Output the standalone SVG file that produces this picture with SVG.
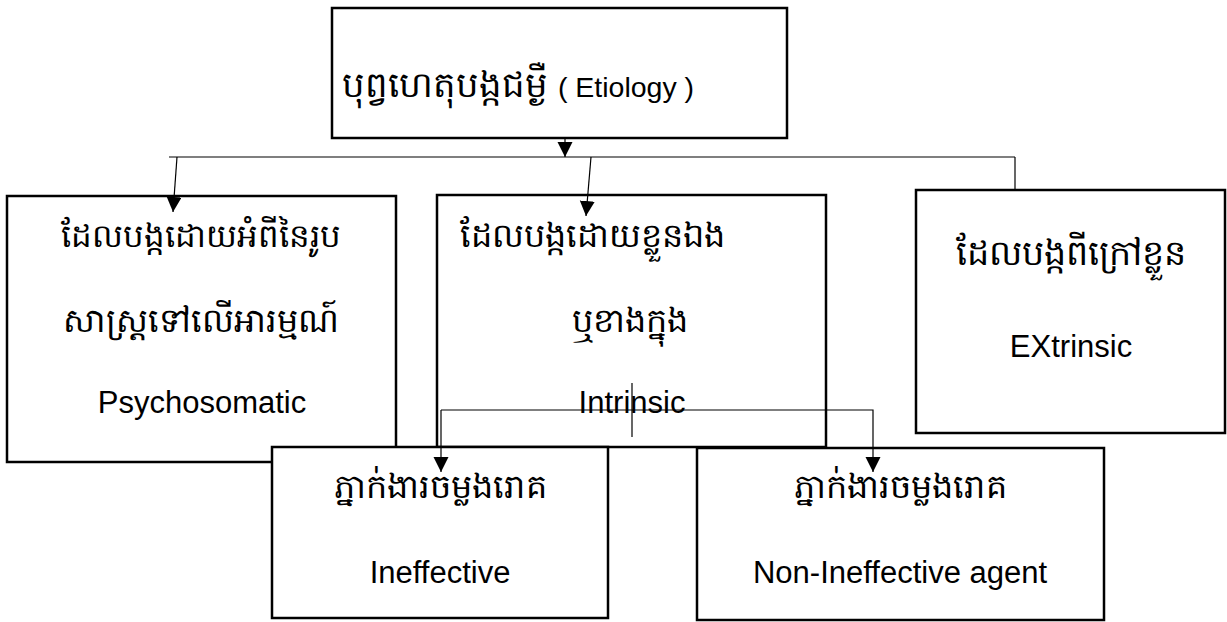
<svg xmlns="http://www.w3.org/2000/svg" width="1227" height="622" viewBox="0 0 1227 622">
<style>
.box{fill:#fff;stroke:#000;stroke-width:2.5}
.ln{fill:none;stroke:#000;stroke-width:1.2}
.t{font-family:"Liberation Sans","Noto Sans",sans-serif;font-size:31px;fill:#000}
.k{font-family:"Liberation Sans","Noto Sans",sans-serif;font-size:33.5px;fill:#000}
.c{text-anchor:middle}
</style>
<defs>
<marker id="ah" markerUnits="userSpaceOnUse" markerWidth="16" markerHeight="16" refX="15" refY="7.5" orient="auto">
<path d="M0,0 L15,7.5 L0,15 Z" fill="#000"/>
</marker>
</defs>
<g id="root">
<rect class="box" x="332" y="8" width="455" height="130"/>
<text class="k" x="342" y="97" style="font-size:35.5px">បុព្វហេតុបង្កជម្ងឺ <tspan class="t" style="font-size:28.5px">( Etiology )</tspan></text>
</g>
<g id="psychosomatic">
<rect class="box" x="7" y="196" width="389" height="266"/>
<text class="k c" x="201" y="247" style="font-size:32.5px">ដែលបង្កដោយអំពីនៃរូប</text>
<text class="k c" x="201" y="332">សាស្ត្រទៅលើអារម្មណ៍</text>
<text class="t c" x="202" y="413">Psychosomatic</text>
</g>
<g id="intrinsic">
<rect class="box" x="437" y="195" width="389" height="252"/>
<text class="k" x="460" y="247">ដែលបង្កដោយខ្លួនឯង</text>
<text class="k c" x="630" y="332">ឬខាងក្នុង</text>
<text class="t c" x="632" y="413">Intrinsic</text>
</g>
<g id="extrinsic">
<rect class="box" x="916" y="190" width="309" height="243"/>
<text class="k c" x="1071" y="265" style="font-size:35px">ដែលបង្កពីក្រៅខ្លួន</text>
<text class="t c" x="1071" y="357">EXtrinsic</text>
</g>
<g id="ineffective">
<rect class="box" x="272" y="447" width="336" height="171"/>
<text class="k c" x="440" y="498">ភ្នាក់ងារចម្លងរោគ</text>
<text class="t c" x="440" y="583">Ineffective</text>
</g>
<g id="non-ineffective">
<rect class="box" x="697" y="448" width="407" height="172"/>
<text class="k c" x="900" y="498">ភ្នាក់ងារចម្លងរោគ</text>
<text class="t c" x="900" y="583">Non-Ineffective agent</text>
</g>
<g id="connectors">
<line class="ln" x1="565" y1="139" x2="565" y2="157" marker-end="url(#ah)"/>
<line class="ln" x1="169" y1="157" x2="1015" y2="157"/>
<line class="ln" x1="177" y1="157" x2="173" y2="212" marker-end="url(#ah)"/>
<line class="ln" x1="591" y1="157" x2="586" y2="216" marker-end="url(#ah)"/>
<line class="ln" x1="1015" y1="157" x2="1015" y2="190"/>
<line class="ln" x1="632" y1="383" x2="632" y2="437"/>
<path class="ln" d="M441,410 V472" marker-end="url(#ah)"/>
<path class="ln" d="M441,410 H873 V472" marker-end="url(#ah)"/>
</g>
</svg>
